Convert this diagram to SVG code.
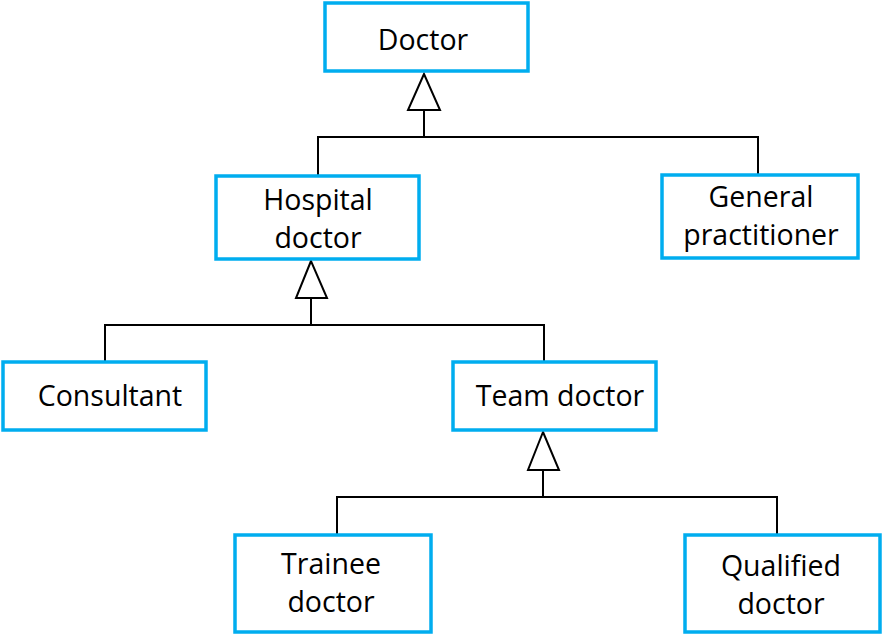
<svg xmlns="http://www.w3.org/2000/svg" width="882" height="634" viewBox="0 0 882 634">
<style>
.box{fill:#fff;stroke:#00adef;stroke-width:3.5}
.t{font-family:"Open Sans","Noto Sans",sans-serif;font-size:28.5px;fill:#000;text-anchor:middle}
.ln{fill:none;stroke:#000;stroke-width:2}
.tri{fill:#fff;stroke:#000;stroke-width:2;stroke-linejoin:miter}
</style>
<rect width="882" height="634" fill="#fff"/>
<g id="connectors">
<path class="ln" d="M424 110V137M318 176V137H758V175"/>
<polygon class="tri" points="424,74 408,110 440,110"/>
<path class="ln" d="M311 298V325M105 362V325H544V362"/>
<polygon class="tri" points="311,261 296,298 327,298"/>
<path class="ln" d="M543 470V497M337 535V497H777V535"/>
<polygon class="tri" points="543,432 528,470 559,470"/>
</g>
<g id="doctor"><rect class="box" x="325" y="3" width="203" height="68"/><text class="t" x="423" y="50">Doctor</text></g>
<g id="hospital-doctor"><rect class="box" x="216" y="176" width="203" height="83"/><text class="t" x="318" y="210">Hospital</text><text class="t" x="318" y="248">doctor</text></g>
<g id="general-practitioner"><rect class="box" x="662" y="175" width="196" height="83"/><text class="t" x="761" y="207">General</text><text class="t" x="761" y="245">practitioner</text></g>
<g id="consultant"><rect class="box" x="3" y="362" width="203" height="68"/><text class="t" x="110" y="406">Consultant</text></g>
<g id="team-doctor"><rect class="box" x="453" y="362" width="203" height="68"/><text class="t" x="560" y="406">Team doctor</text></g>
<g id="trainee-doctor"><rect class="box" x="235" y="535" width="196" height="97"/><text class="t" x="331" y="574">Trainee</text><text class="t" x="331" y="612">doctor</text></g>
<g id="qualified-doctor"><rect class="box" x="685" y="535" width="195" height="97"/><text class="t" x="781" y="576">Qualified</text><text class="t" x="781" y="614">doctor</text></g>
</svg>
